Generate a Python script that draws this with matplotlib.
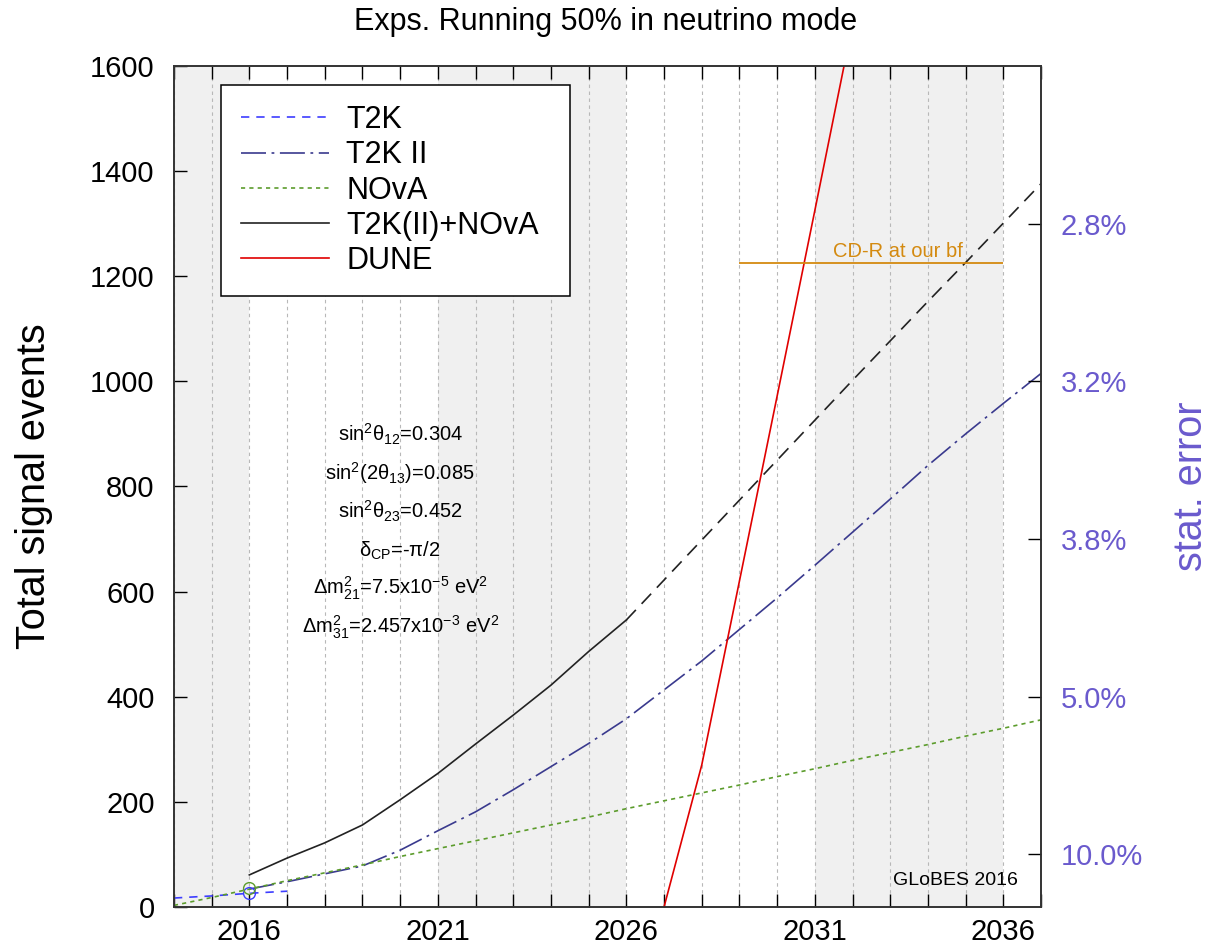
import numpy as np
import matplotlib
matplotlib.use('Agg')
import matplotlib.pyplot as plt

plt.rcParams['font.family'] = ['Liberation Sans', 'DejaVu Sans']
plt.rcParams['mathtext.fontset'] = 'custom'
plt.rcParams['mathtext.rm'] = 'Liberation Sans'
plt.rcParams['mathtext.it'] = 'Liberation Sans'
plt.rcParams['mathtext.bf'] = 'Liberation Sans:bold'
plt.rcParams['lines.scale_dashes'] = False

# values (total signal events per year)
years_t2k = [2014, 2015, 2016, 2017]
t2k = [17, 21, 26, 30]

years_t2k2 = list(range(2016, 2038))
t2k2 = [34, 48, 63, 78, 108, 145, 181, 223, 267, 311,
        358, 413, 468, 528, 588, 650, 713, 776, 840, 900, 958, 1015]

years_nova = list(range(2014, 2038))
nova = [3, 18, 34, 50, 65, 80, 96, 111, 126, 141,
        156, 171, 187, 202, 217, 232, 248, 263, 279, 294,
        309, 325, 340, 356]

years_comb = list(range(2016, 2027))
comb = [61, 93, 122, 156, 204, 254, 310, 365, 422, 486, 546]

years_comb_proj = list(range(2026, 2038))
comb_proj = [546, 622, 698, 774, 850, 926, 1002, 1077, 1152, 1226, 1301, 1376]

years_dune = [2027, 2028, 2029, 2030, 2031, 2032]
dune = [0, 270, 620, 972, 1325, 1680]

now_year = 2016
now_t2k = 26
now_nova = 36

cdr_level = 1225
cdr_start, cdr_end = 2029, 2036

year_labels = [2016, 2021, 2026, 2031, 2036]
stat_ticks = [100, 400, 700, 1000, 1300]
shade_spans = [(2014, 2016), (2021, 2026), (2031, 2036)]

params = [r'sin$^2\theta_{12}$=0.304',
          r'sin$^2$(2$\theta_{13}$)=0.085',
          r'sin$^2\theta_{23}$=0.452',
          r'$\delta_{CP}$=-$\pi$/2',
          r'$\Delta$m$^2_{21}$=7.5x10$^{-5}$ eV$^2$',
          r'$\Delta$m$^2_{31}$=2.457x10$^{-3}$ eV$^2$']

c_t2k = '#3d3dff'
c_t2k2 = '#3a3a8e'
c_nova = '#5c9c2c'
c_comb = '#222222'
c_dune = '#e00000'
c_cdr = '#d48a10'
c_stat = '#6a5acd'

fig = plt.figure(figsize=(12.19, 9.52), dpi=100)
ax = fig.add_axes([0.1427, 0.0473, 0.7113, 0.8834])

for a, b in shade_spans:
    ax.axvspan(a, b, color='#f0f0f0', lw=0, zorder=0)

ax.plot(years_t2k, t2k, color=c_t2k, lw=1.2, dashes=(6, 5), label='T2K')
ax.plot(years_t2k2, t2k2, color=c_t2k2, lw=1.2, dashes=(18, 4, 2, 4), label='T2K II')
ax.plot(years_nova, nova, color=c_nova, lw=1.2, dashes=(3, 3), label='NOvA')
ax.plot(years_comb, comb, color=c_comb, lw=1.2, label='T2K(II)+NOvA')
ax.plot(years_comb_proj, comb_proj, color=c_comb, lw=1.2, dashes=(10, 6))
ax.plot(years_dune, dune, color=c_dune, lw=1.2, label='DUNE')
ax.plot([now_year], [now_t2k], 'o', mfc='none', mec=c_t2k, ms=8.5, mew=1.0)
ax.plot([now_year], [now_nova], 'o', mfc='none', mec=c_nova, ms=8.5, mew=1.0)

ax.hlines(cdr_level, cdr_start, cdr_end, color=c_cdr, lw=1.3)
ax.text(2033.2, cdr_level + 12, 'CD-R at our bf', color=c_cdr, fontsize=14.5,
        ha='center', va='baseline')

for i, s in enumerate(params):
    ax.text(2020, 0.5535 - i * 0.0455, s, fontsize=14.5, ha='center',
            va='baseline', transform=ax.get_xaxis_transform())

ax.text(0.973, 0.032, 'GLoBES 2016', fontsize=14, ha='right', va='center',
        transform=ax.transAxes)

ax.set_xlim(2014, 2037)
ax.set_ylim(0, 1600)
ax.set_xticks(year_labels)
ax.set_xticks(range(2014, 2038), minor=True)
ax.set_yticks(range(0, 1601, 200))
ax.set_axisbelow(True)
ax.grid(axis='x', which='both', color='#b8b8b8', ls=(0, (2.5, 2.5)), lw=0.8)

ax.tick_params(axis='x', which='both', direction='in', length=9.5, width=1,
               top=True, labelsize=21, pad=8)
ax.tick_params(axis='y', which='major', direction='in', length=9.5, width=1,
               left=True, right=True, labelsize=21, pad=14)
for sp in ax.spines.values():
    sp.set_color('#333333')
    sp.set_linewidth(1.2)

ax.set_ylabel('Total signal events', fontsize=28.5)
ax.yaxis.set_label_coords(-0.14, 0.5)

leg = ax.legend(loc='upper left', bbox_to_anchor=(0.054, 0.5, 0.4025, 0.477),
                mode='expand', fontsize=22, frameon=True, fancybox=False,
                framealpha=1, edgecolor='black', borderpad=0.65,
                labelspacing=0.17, handlelength=2.9, handletextpad=0.55,
                borderaxespad=0)
leg.get_frame().set_linewidth(1.1)

ax2 = ax.twinx()
ax2.set_ylim(0, 1600)
ax2.set_yticks(stat_ticks)
ax2.set_yticklabels(['%.1f%%' % (100 / np.sqrt(n)) for n in stat_ticks])
ax2.tick_params(axis='y', direction='in', length=9.5, width=1, labelsize=21,
                labelcolor=c_stat, pad=14)
for sp in ax2.spines.values():
    sp.set_color('#333333')
    sp.set_linewidth(1.2)
ax2.set_ylabel('stat. error', fontsize=28.5, color=c_stat)
ax2.yaxis.set_label_coords(1.151, 0.5)

fig.text(0.497, 1 - 22 / 952, 'Exps. Running 50% in neutrino mode',
         ha='center', va='center', fontsize=22)

fig.savefig('out.png', dpi=100)
